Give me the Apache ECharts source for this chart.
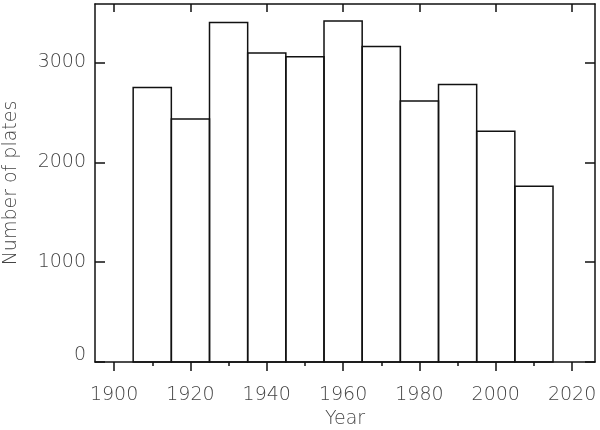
<!DOCTYPE html>
<html>
<head>
<meta charset="utf-8">
<script src="https://cdn.jsdelivr.net/npm/echarts@6/dist/echarts.min.js"></script>
<style>html,body{margin:0;padding:0;background:#fff}#c{width:600px;height:430px}</style>
</head>
<body>
<div id="c"></div>
<script>
// Histogram bins (start year, end year) and counts
const binStarts = [1905, 1915, 1925, 1935, 1945, 1955, 1965, 1975, 1985, 1995, 2005];
const binEnds   = [1915, 1925, 1935, 1945, 1955, 1965, 1975, 1985, 1995, 2005, 2015];
const counts    = [2750, 2434, 3400, 3094, 3057, 3414, 3160, 2614, 2780, 2310, 1760];
const xMajorTicks = [1900, 1920, 1940, 1960, 1980, 2000, 2020];
const xMinorTicks = [1910, 1930, 1950, 1970, 1990, 2010];
const yTicks = [0, 1000, 2000, 3000];

const FONT = 'DejaVu Sans';
const FW = 200;
const FS = 19;
const TXT = '#444';
const LINE = '#111';

const data = binStarts.map((s, i) => [s, binEnds[i], counts[i]]);

const chart = echarts.init(document.getElementById('c'), null, {renderer: 'canvas'});
chart.setOption({
  animation: false,
  backgroundColor: '#fff',
  grid: {left: 95, right: 5, top: 4, bottom: 68, containLabel: false, outerBoundsMode: 'none'},
  xAxis: [
    {
      type: 'value', position: 'bottom', min: 1895, max: 2026,
      splitLine: {show: false},
      axisLine: {show: true, onZero: false, lineStyle: {color: LINE, width: 1.5}},
      axisTick: {show: true, inside: false, length: 9, customValues: xMajorTicks, lineStyle: {color: LINE, width: 1.5}},
      axisLabel: {customValues: xMajorTicks, margin: 24, fontFamily: FONT, fontSize: FS, fontWeight: FW, color: TXT,
                  formatter: v => String(v)},
      name: 'Year', nameLocation: 'middle', nameGap: 46,
      nameTextStyle: {fontFamily: FONT, fontSize: FS, fontWeight: FW, color: TXT}
    },
    {
      type: 'value', position: 'bottom', min: 1895, max: 2026,
      splitLine: {show: false},
      axisLine: {show: false, onZero: false},
      axisTick: {show: true, inside: false, length: 4, customValues: xMinorTicks, lineStyle: {color: LINE, width: 1.5}},
      axisLabel: {show: false}
    },
    {
      type: 'value', position: 'top', min: 1895, max: 2026,
      splitLine: {show: false},
      axisLine: {show: true, onZero: false, lineStyle: {color: LINE, width: 1.5}},
      axisTick: {show: true, inside: true, length: 8, customValues: xMajorTicks, lineStyle: {color: LINE, width: 1.5}},
      axisLabel: {show: false}
    }
  ],
  yAxis: [
    {
      type: 'value', position: 'left', min: 0, max: 3585,
      splitLine: {show: false},
      axisLine: {show: true, onZero: false, lineStyle: {color: LINE, width: 1.5}},
      axisTick: {show: true, inside: true, length: 10, customValues: yTicks, lineStyle: {color: LINE, width: 1.5}},
      axisLabel: {customValues: yTicks, margin: 9, fontFamily: FONT, fontSize: FS, fontWeight: FW, color: TXT,
                  formatter: v => (v === 0 ? '{z|0}' : String(v)),
                  rich: {z: {fontFamily: FONT, fontSize: FS, fontWeight: FW, color: TXT, padding: [0, 0, 14, 0]}}},
      name: 'Number of plates', nameLocation: 'middle', nameGap: 74, nameRotate: 90,
      nameTextStyle: {fontFamily: FONT, fontSize: FS, fontWeight: FW, color: TXT}
    },
    {
      type: 'value', position: 'right', min: 0, max: 3585,
      splitLine: {show: false},
      axisLine: {show: true, onZero: false, lineStyle: {color: LINE, width: 1.5}},
      axisTick: {show: true, inside: true, length: 10, customValues: yTicks, lineStyle: {color: LINE, width: 1.5}},
      axisLabel: {show: false}
    }
  ],
  series: [{
    type: 'custom',
    xAxisIndex: 0, yAxisIndex: 0,
    data: data,
    encode: {x: [0, 1], y: 2},
    renderItem: function (params, api) {
      const p0 = api.coord([api.value(0), api.value(2)]);
      const p1 = api.coord([api.value(1), 0]);
      return {
        type: 'rect',
        shape: {x: p0[0], y: p0[1], width: p1[0] - p0[0], height: p1[1] - p0[1]},
        style: {fill: 'none', stroke: LINE, lineWidth: 1.5}
      };
    }
  }]
});
</script>
</body>
</html>
